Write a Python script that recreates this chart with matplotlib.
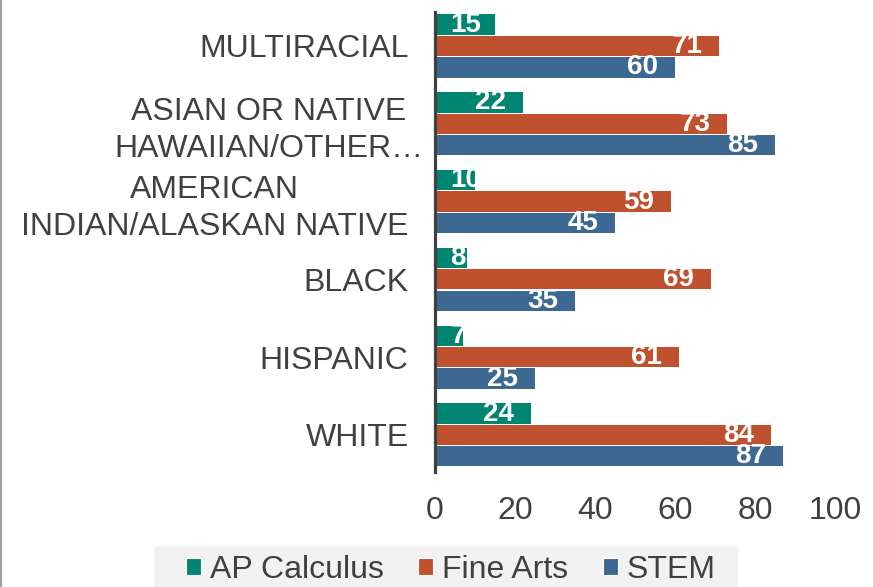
import numpy as np
import matplotlib
matplotlib.use("Agg")
import matplotlib.pyplot as plt
import matplotlib.transforms as mtransforms
from matplotlib.patches import Patch, Rectangle
from matplotlib.lines import Line2D

# Chart data (top to bottom)
categories = ["MULTIRACIAL", "ASIAN OR NATIVE\nHAWAIIAN/OTHER\u2026",
              "AMERICAN\nINDIAN/ALASKAN NATIVE", "BLACK", "HISPANIC", "WHITE"]
ap_calculus = [15, 22, 10, 8, 7, 24]
fine_arts = [71, 73, 59, 69, 61, 84]
stem = [60, 85, 45, 35, 25, 87]

series_names = ["AP Calculus", "Fine Arts", "STEM"]
colors = ["#008572", "#C0512F", "#3D6891"]
text_color = "#404040"

plt.rcParams['font.family'] = ['Liberation Sans', 'DejaVu Sans']

W, H = 873, 587
fig = plt.figure(figsize=(W / 100, H / 100), dpi=100)
ax = fig.add_axes([435 / W, 1 - 472 / H, 400 / W, 460 / H])

y = np.arange(len(categories))
h = 0.26
offsets = [-0.275, 0, 0.275]
px_per_unit = 4.0  # 400 px axis for 0..100
for vals, off, col in zip([ap_calculus, fine_arts, stem], offsets, colors):
    bars = ax.barh(y + off, vals, height=h, color=col)
    for b, v in zip(bars, vals):
        yc = b.get_y() + b.get_height() / 2
        txt_w = 14.5 * len(str(v))
        # label sits inside the end, but never closer than ~15px to the axis
        if v * px_per_unit - 17 - txt_w < 15:
            ax.annotate(str(v), (0, yc), xytext=(11, 0), textcoords="offset points",
                        ha="left", va="center", color="white",
                        fontsize=20, fontweight="bold")
        else:
            ax.annotate(str(v), (v, yc), xytext=(-12, 0), textcoords="offset points",
                        ha="right", va="center", color="white",
                        fontsize=20, fontweight="bold")

ax.set_xlim(0, 100)
ax.set_ylim(5.476, -0.437)
ax.set_xticks(range(0, 101, 20))
ax.set_yticks(y)
ax.set_yticklabels(categories, multialignment="center", linespacing=1.3)
ax.tick_params(axis="y", length=0, pad=19, labelsize=23, colors=text_color)
ax.tick_params(axis="x", length=0, pad=17, labelsize=23, colors=text_color)

# the truncated label sits a little closer to the axis in the original
lbl = ax.get_yticklabels()[1]
lbl.set_transform(lbl.get_transform() +
                  mtransforms.ScaledTranslation(0.15, 0, fig.dpi_scale_trans))

for s in ["top", "right", "bottom"]:
    ax.spines[s].set_visible(False)
ax.spines["left"].set_color("#404040")
ax.spines["left"].set_linewidth(2.3)

# legend on a light gray band
fig.add_artist(Rectangle((154 / W, 0), (738 - 154) / W, (H - 546) / H,
                         transform=fig.transFigure, facecolor="#F2F2F2",
                         edgecolor="none", zorder=0))
handles = [Patch(facecolor=c, edgecolor="white", linewidth=0.8) for c in colors]
fig.legend(handles, series_names, loc="center",
           bbox_to_anchor=(451 / W, 1 - 570 / H), ncol=3, frameon=False,
           fontsize=23, handlelength=0.47, handleheight=0.47,
           handletextpad=0.28, columnspacing=1.08, borderpad=0.0,
           labelcolor=text_color)

# chart border (left edge)
fig.add_artist(Line2D([0.001, 0.001], [0, 1], color="#A0A0A0", linewidth=1.5,
                      transform=fig.transFigure))

fig.savefig("out.png", dpi=100)
